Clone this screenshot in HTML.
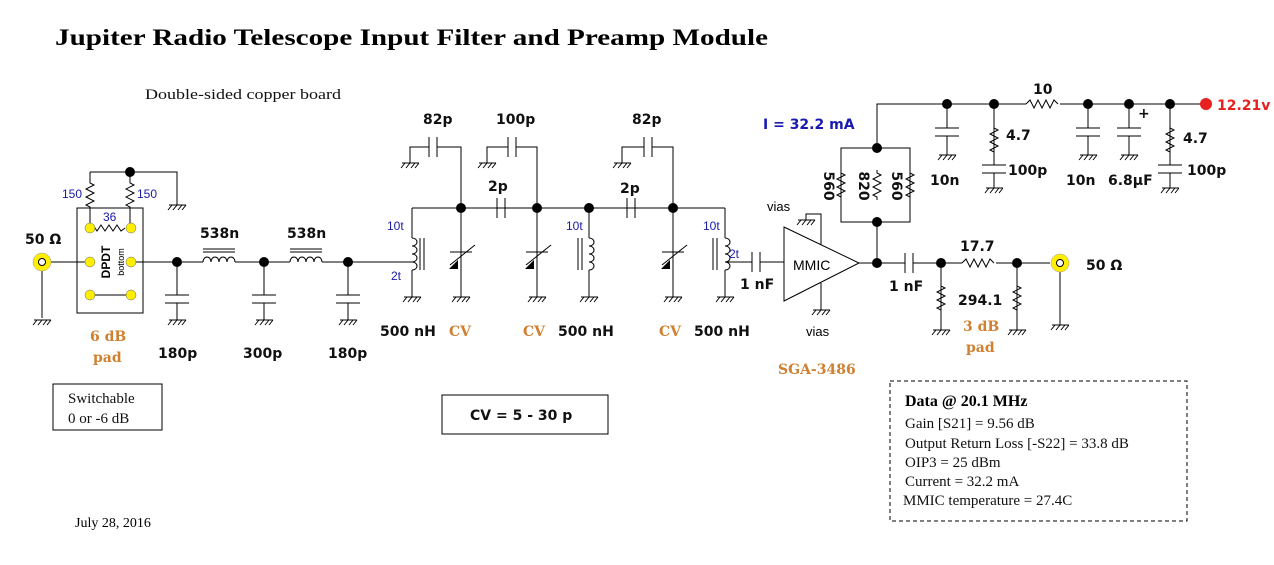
<!DOCTYPE html>
<html><head><meta charset="utf-8"><style>
html,body{margin:0;padding:0;background:#fff;}
svg{display:block}
.v{font-family:"DejaVu Sans",sans-serif;font-weight:bold;font-size:14px;fill:#111}
.b{font-family:"Liberation Sans",sans-serif;font-size:12px;fill:#1a1aa8}
.o{font-family:"DejaVu Serif",serif;font-weight:bold;font-size:14px;fill:#d08030}
.s{font-family:"Liberation Serif",serif;font-size:15px;fill:#111}
</style></head><body>
<svg width="1274" height="565" viewBox="0 0 1274 565" xmlns="http://www.w3.org/2000/svg">
<defs>
<g id="g" stroke="#000" stroke-width="1" fill="none"><path d="M-8,0H9M-5,0l-4,5M0,0l-4,5M5,0l-4,5M9,0l-4,5"/></g>
<polyline id="rv" points="0,0 0,3 4,5 -4,9 4,13 -4,17 4,21 -4,25 0,27 0,30" fill="none" stroke="#000"/>
<g id="lh" fill="none" stroke="#000"><path d="M0,0a4,5 0 0 1 8,0a4,5 0 0 1 8,0a4,5 0 0 1 8,0a4,5 0 0 1 8,0"/><path d="M0,-10H32M0,-13H32"/></g>
<path id="lvr" d="M0,0a5,4 0 0 1 0,8a5,4 0 0 1 0,8a5,4 0 0 1 0,8a5,4 0 0 1 0,8" fill="none" stroke="#000"/>
<g id="vc"><path d="M0,-45V-5M-11,-5H11M0,-5V40" stroke="#000" fill="none"/><path d="M-11,8L14,-12" stroke="#000"/><path d="M-12,12l9,-9l0,9z" fill="#000"/></g>
<circle id="n" r="5" fill="#000"/>
<circle id="y" r="5" fill="#ffee00" stroke="#666" stroke-width=".5"/>
</defs>

<text x="55" y="45" font-family="Liberation Serif,serif" font-weight="bold" font-size="23" textLength="713" lengthAdjust="spacingAndGlyphs">Jupiter Radio Telescope Input Filter and Preamp Module</text>
<text x="145" y="99" class="s" textLength="196" lengthAdjust="spacingAndGlyphs">Double-sided copper board</text>

<g stroke="#000" fill="none" stroke-width="1">
<path d="M42,262H90M42,262V318"/>
<rect x="77" y="208" width="66" height="105"/>
<path d="M90,295H131"/>
<path d="M131,262H412"/>
<path d="M90,172H177V205M90,172V180M130,172V180M90,210V228M130,210V228"/>
<path d="M90,228l3,-3 4,6 4,-6 4,6 4,-6 4,6 4,-6 4,6 4,-3"/>
<path d="M177,262V295M177,303V320M264,262V295M264,303V320M348,262V295M348,303V320"/>
<path d="M165,295H189M165,303H189M252,295H276M252,303H276M336,295H360M336,303H360"/>
<path d="M412,208H725M412,208V238M412,270V297M412,262H402"/>
<path d="M420,238V270M424,238V270"/>
<path d="M410,163V147H429M437,147H461V208M429,137V157M437,137V157"/>
<path d="M487,163V147H508M516,147H537V208M508,137V157M516,137V157"/>
<path d="M622,163V147H644M652,147H673V208M644,137V157M652,137V157"/>
<path d="M497,198V218M505,198V218M627,198V218M635,198V218"/>
<path d="M589,208V238M589,270V297M578,238V270M582,238V270"/>
<path d="M725,208V238M725,270V297M713,238V270M717,238V270"/>
<path d="M725,262H752M760,262H784M752,252V272M760,252V272"/>
<path d="M784,227L859,263L784,301Z"/>
<path d="M821,245V214H806V220M821,283V310"/>
<path d="M859,263H905M913,263H1050M905,253V273M913,253V273"/>
<path d="M877,263V222M841,148H910V222H841ZM877,148V104H1206"/>
<path d="M941,263V330M1017,263V330M1060,263V325"/>
<path d="M947,104V128M947,136V155M935,128H959M935,136H959"/>
<path d="M994,104V165M994,173V188M982,165H1006M982,173H1006"/>
<path d="M1088,104V128M1088,136V155M1076,128H1100M1076,136H1100"/>
<path d="M1129,104V128M1129,136V155M1117,128H1141M1117,136H1141"/>
<path d="M1170,104V165M1170,173V188M1158,165H1182M1158,173H1182"/>
</g>
<rect x="1026" y="100" width="34" height="8" fill="#fff"/>
<polyline points="1026,104 1030,100 1034,108 1038,100 1042,108 1046,100 1050,108 1054,100 1058,104" fill="none" stroke="#000"/>
<rect x="962" y="259" width="34" height="8" fill="#fff"/>
<polyline points="962,263 966,259 970,267 974,259 978,267 982,259 986,267 990,259 994,263" fill="none" stroke="#000"/>

<use href="#rv" x="90" y="180"/><use href="#rv" x="130" y="180"/>
<use href="#rv" x="841" y="170"/><use href="#rv" x="877" y="170"/><use href="#rv" x="910" y="170"/>
<use href="#rv" x="941" y="283"/><use href="#rv" x="1017" y="283"/>
<use href="#rv" x="994" y="125"/><use href="#rv" x="1170" y="125"/>
<rect x="203" y="258" width="32" height="8" fill="#fff"/><use href="#lh" x="203" y="262"/>
<rect x="290" y="258" width="32" height="8" fill="#fff"/><use href="#lh" x="290" y="262"/>
<use href="#lvr" x="412" y="238"/><use href="#lvr" x="589" y="238"/><use href="#lvr" x="725" y="238"/>
<use href="#vc" x="461" y="257"/><use href="#vc" x="537" y="257"/><use href="#vc" x="673" y="257"/>

<g>
<use href="#g" x="42" y="320"/><use href="#g" x="177" y="205"/>
<use href="#g" x="177" y="320"/><use href="#g" x="264" y="320"/><use href="#g" x="348" y="320"/>
<use href="#g" x="410" y="163"/><use href="#g" x="487" y="163"/><use href="#g" x="622" y="163"/>
<use href="#g" x="412" y="297"/><use href="#g" x="461" y="297"/><use href="#g" x="537" y="297"/>
<use href="#g" x="589" y="297"/><use href="#g" x="673" y="297"/><use href="#g" x="725" y="297"/>
<use href="#g" x="806" y="220"/><use href="#g" x="821" y="310"/>
<use href="#g" x="941" y="330"/><use href="#g" x="1017" y="330"/><use href="#g" x="1060" y="325"/>
<use href="#g" x="947" y="155"/><use href="#g" x="994" y="188"/><use href="#g" x="1088" y="155"/><use href="#g" x="1129" y="155"/><use href="#g" x="1170" y="188"/>
</g>

<use href="#n" x="130" y="172"/><use href="#n" x="177" y="262"/><use href="#n" x="264" y="262"/><use href="#n" x="348" y="262"/>
<use href="#n" x="461" y="208"/><use href="#n" x="537" y="208"/><use href="#n" x="589" y="208"/><use href="#n" x="673" y="208"/>
<use href="#n" x="877" y="148"/><use href="#n" x="877" y="222"/><use href="#n" x="877" y="263"/>
<use href="#n" x="941" y="263"/><use href="#n" x="1017" y="263"/>
<use href="#n" x="947" y="104"/><use href="#n" x="994" y="104"/><use href="#n" x="1088" y="104"/><use href="#n" x="1129" y="104"/><use href="#n" x="1170" y="104"/>
<circle cx="1206" cy="104" r="6" fill="#e82020"/>

<use href="#y" x="90" y="228"/><use href="#y" x="131" y="228"/><use href="#y" x="90" y="262"/><use href="#y" x="131" y="262"/><use href="#y" x="90" y="295"/><use href="#y" x="131" y="295"/>
<circle cx="42" cy="262" r="9" fill="#ffee00" stroke="#999" stroke-width=".5"/><circle cx="42" cy="262" r="3.5" fill="#fff" stroke="#000"/>
<circle cx="1060" cy="263" r="9" fill="#ffee00" stroke="#999" stroke-width=".5"/><circle cx="1060" cy="263" r="3.5" fill="#fff" stroke="#000"/>

<text x="25" y="244" class="v" font-size="15">50 Ω</text>
<text x="1086" y="270" class="v">50 Ω</text>
<text x="62" y="198" class="b">150</text><text x="137" y="198" class="b">150</text><text x="103" y="221" class="b">36</text>
<text transform="translate(110,262) rotate(-90)" text-anchor="middle" font-family="Liberation Sans,sans-serif" font-weight="bold" font-size="12">DPDT</text>
<text transform="translate(124,262) rotate(-90)" text-anchor="middle" font-family="Liberation Sans,sans-serif" font-size="9">bottom</text>
<text x="200" y="238" class="v">538n</text><text x="287" y="238" class="v">538n</text>
<text x="158" y="358" class="v">180p</text><text x="243" y="358" class="v">300p</text><text x="328" y="358" class="v">180p</text>
<text x="90" y="341" class="o">6 dB</text><text x="93" y="362" class="o">pad</text>
<text x="423" y="124" class="v">82p</text><text x="496" y="124" class="v">100p</text><text x="632" y="124" class="v">82p</text>
<text x="488" y="191" class="v">2p</text><text x="620" y="193" class="v">2p</text>
<text x="387" y="230" class="b">10t</text><text x="391" y="280" class="b">2t</text>
<text x="566" y="230" class="b">10t</text><text x="703" y="230" class="b">10t</text><text x="729" y="258" class="b">2t</text>
<text x="380" y="336" class="v">500 nH</text><text x="449" y="336" class="o">CV</text>
<text x="523" y="336" class="o">CV</text><text x="558" y="336" class="v">500 nH</text>
<text x="659" y="336" class="o">CV</text><text x="694" y="336" class="v">500 nH</text>
<text x="740" y="289" class="v">1 nF</text><text x="889" y="291" class="v">1 nF</text>
<text x="793" y="270" font-family="Liberation Sans,sans-serif" font-size="14">MMIC</text>
<text x="767" y="211" font-family="Liberation Sans,sans-serif" font-size="13">vias</text>
<text x="806" y="336" font-family="Liberation Sans,sans-serif" font-size="13">vias</text>
<text x="778" y="374" class="o">SGA-3486</text>
<text x="763" y="129" class="v" style="fill:#1a1ab0" font-size="15">I = 32.2 mA</text>
<text transform="translate(824,186) rotate(90)" text-anchor="middle" class="v">560</text>
<text transform="translate(859,186) rotate(90)" text-anchor="middle" class="v">820</text>
<text transform="translate(892,186) rotate(90)" text-anchor="middle" class="v">560</text>
<text x="1033" y="94" class="v">10</text>
<text x="930" y="185" class="v">10n</text><text x="1006" y="140" class="v">4.7</text><text x="1008" y="175" class="v">100p</text>
<text x="1066" y="185" class="v">10n</text><text x="1108" y="185" class="v">6.8μF</text><text x="1138" y="118" class="v" font-size="12">+</text>
<text x="1183" y="143" class="v">4.7</text><text x="1187" y="175" class="v">100p</text>
<text x="1217" y="110" class="v" style="fill:#e82020">12.21v</text>
<text x="960" y="251" class="v">17.7</text><text x="958" y="305" class="v">294.1</text>
<text x="963" y="331" class="o">3 dB</text><text x="966" y="352" class="o">pad</text>

<rect x="53" y="384" width="109" height="46" fill="none" stroke="#000"/>
<text x="68" y="403" class="s">Switchable</text><text x="68" y="423" class="s">0 or -6 dB</text>
<rect x="442" y="395" width="166" height="39" fill="none" stroke="#000"/>
<text x="470" y="420" class="v" font-size="15">CV = 5 - 30 p</text>
<rect x="890" y="381" width="297" height="140" fill="none" stroke="#000" stroke-dasharray="4,3"/>
<text x="905" y="406" font-family="Liberation Serif,serif" font-weight="bold" font-size="16">Data @ 20.1 MHz</text>
<text x="905" y="428" class="s">Gain [S21] = 9.56 dB</text>
<text x="905" y="448" class="s">Output Return Loss [-S22] = 33.8 dB</text>
<text x="905" y="467" class="s">OIP3 = 25 dBm</text>
<text x="905" y="486" class="s">Current = 32.2 mA</text>
<text x="903" y="505" class="s">MMIC temperature = 27.4C</text>
<text x="75" y="527" font-family="Liberation Serif,serif" font-size="14">July 28, 2016</text>
</svg>
</body></html>
